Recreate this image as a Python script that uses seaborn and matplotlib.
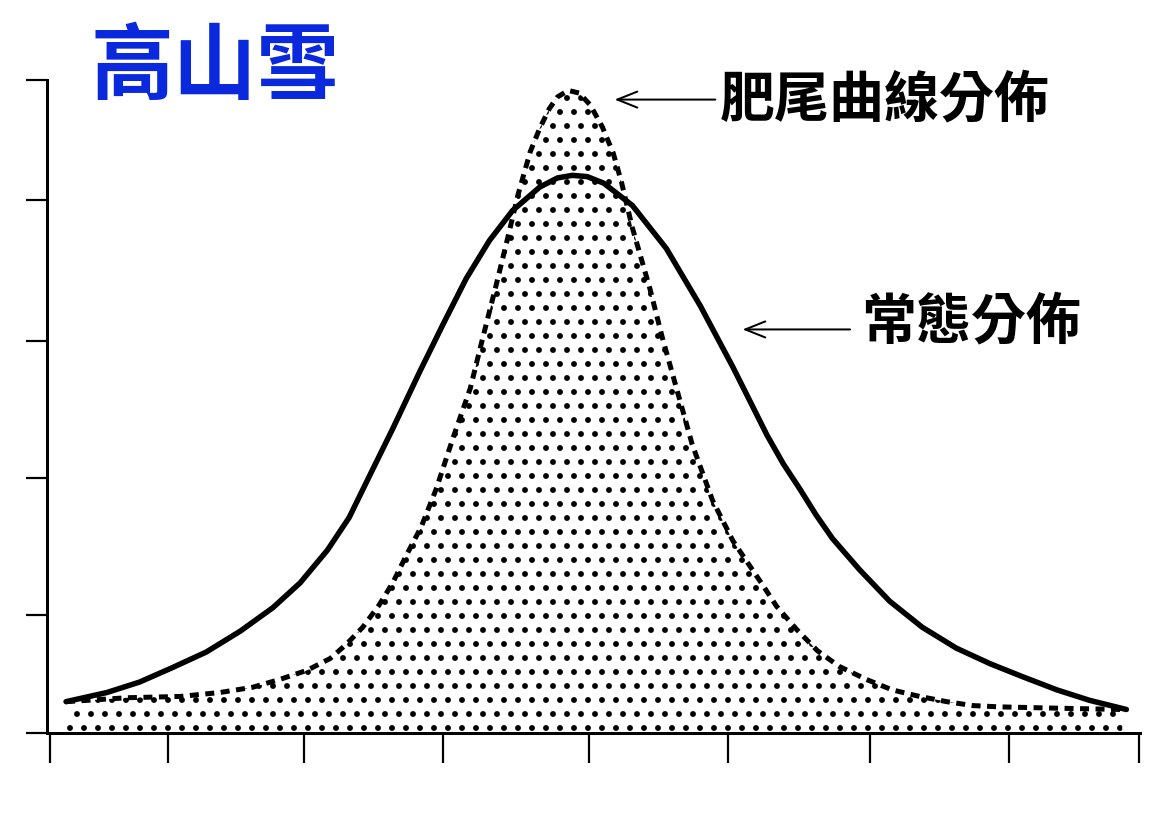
import matplotlib
matplotlib.use('Agg')
import matplotlib.pyplot as plt
import seaborn as sns

# solid curve - 常態分佈
normal_x = [0.12, 0.42, 0.66, 0.90, 1.15, 1.40, 1.64, 1.84, 2.04, 2.20, 2.35, 2.52, 2.72, 2.89, 3.06, 3.23,
            3.40, 3.60, 3.73, 3.84, 3.95, 4.07, 4.28, 4.53, 4.78, 5.02, 5.15, 5.27, 5.39, 5.51, 5.63, 5.75,
            5.95, 6.17, 6.41, 6.66, 6.91, 7.15, 7.40, 7.64, 7.91]
normal_y = [0.24, 0.31, 0.39, 0.50, 0.62, 0.78, 0.96, 1.15, 1.40, 1.65, 1.97, 2.33, 2.77, 3.13, 3.48, 3.77,
            4.00, 4.18, 4.25, 4.27, 4.26, 4.21, 4.04, 3.71, 3.27, 2.80, 2.53, 2.28, 2.06, 1.87, 1.67, 1.49,
            1.25, 1.01, 0.81, 0.65, 0.53, 0.43, 0.33, 0.25, 0.18]

# dashed curve - 肥尾曲線分佈
fat_x = [0.12, 0.57, 0.96, 1.25, 1.49, 1.69, 1.89, 2.06, 2.18, 2.30, 2.42, 2.52, 2.62, 2.73, 2.84, 2.96,
         3.09, 3.18, 3.28, 3.36, 3.44, 3.53, 3.60, 3.67, 3.73, 3.81, 3.89, 3.97, 4.06, 4.14, 4.20, 4.28,
         4.41, 4.50, 4.61, 4.72, 4.87, 5.02, 5.24, 5.34, 5.49, 5.64, 5.80, 6.00, 6.19, 6.39, 6.59, 6.78,
         6.98, 7.40, 7.88]
fat_y = [0.24, 0.27, 0.28, 0.31, 0.35, 0.41, 0.48, 0.57, 0.68, 0.81, 0.98, 1.15, 1.36, 1.58, 1.87, 2.25,
         2.64, 3.02, 3.43, 3.77, 4.12, 4.45, 4.63, 4.78, 4.87, 4.92, 4.90, 4.81, 4.64, 4.44, 4.22, 3.87,
         3.40, 3.03, 2.62, 2.21, 1.78, 1.47, 1.13, 0.97, 0.79, 0.63, 0.51, 0.41, 0.33, 0.28, 0.24, 0.21,
         0.20, 0.19, 0.18]

# hand drawn ticks, not evenly spaced
x_ticks = [0, 0.87, 1.87, 2.89, 3.96, 4.98, 6.03, 7.05, 8.0]
y_ticks = [0, 0.9, 1.95, 3.0, 4.08, 5.0]

title_text = '高山雪'
fat_label = '肥尾曲線分佈'
normal_label = '常態分佈'

DPI = 84


def px(p):
    # pixel size -> points at this dpi
    return p * 72 / DPI


sns.set_style('white')
plt.rcParams['font.family'] = ['Noto Sans CJK TC', 'DejaVu Sans']
plt.rcParams['hatch.linewidth'] = px(3)

fig = plt.figure(figsize=(1176 / DPI, 822 / DPI), dpi=DPI)
ax = fig.add_axes([47 / 1176, 89 / 822, 1093 / 1176, 653 / 822])

# dotted area under the fat tail curve
ax.fill_between(fat_x, fat_y, 0, facecolor='white', edgecolor='black', hatch='.', linewidth=0, zorder=1)
sns.lineplot(x=fat_x, y=fat_y, ax=ax, color='black', linewidth=px(5), linestyle=(0, (1.8, 1.3)), zorder=3)
sns.lineplot(x=normal_x, y=normal_y, ax=ax, color='black', linewidth=px(5.5), zorder=4)

ax.set_xlim(-0.02, 8.01)
ax.set_ylim(0, 5)
ax.set_xticks(x_ticks)
ax.set_xticklabels([])
ax.set_yticks(y_ticks)
ax.set_yticklabels([])
ax.tick_params(axis='x', bottom=True, direction='out', length=px(30), width=px(2.2), color='black')
ax.tick_params(axis='y', left=True, direction='out', length=px(21), width=px(2.2), color='black')
ax.set_xlabel('')
ax.set_ylabel('')
for side in ['top', 'right']:
    ax.spines[side].set_visible(False)
for side in ['left', 'bottom']:
    ax.spines[side].set_linewidth(px(3))
    ax.spines[side].set_color('black')

# labels with arrows
arrow = dict(arrowstyle='->,head_length=0.5,head_width=0.2', color='black', lw=px(2),
             mutation_scale=px(40), shrinkA=0, shrinkB=0)
ax.annotate('', xy=(4.15, 4.85), xytext=(4.89, 4.85), arrowprops=arrow)
ax.text(4.92, 4.85, fat_label, fontsize=px(55), fontweight='bold', color='black', ha='left', va='center')

ax.annotate('', xy=(5.09, 3.09), xytext=(5.88, 3.09), arrowprops=arrow)
ax.text(5.96, 3.15, normal_label, fontsize=px(55), fontweight='bold', color='black', ha='left', va='center')

fig.text(215 / 1176, 1 - 69 / 822, title_text, color='#0a28dc', fontsize=px(83), fontweight='bold',
         ha='center', va='center')

fig.savefig('out.png', dpi=DPI)
